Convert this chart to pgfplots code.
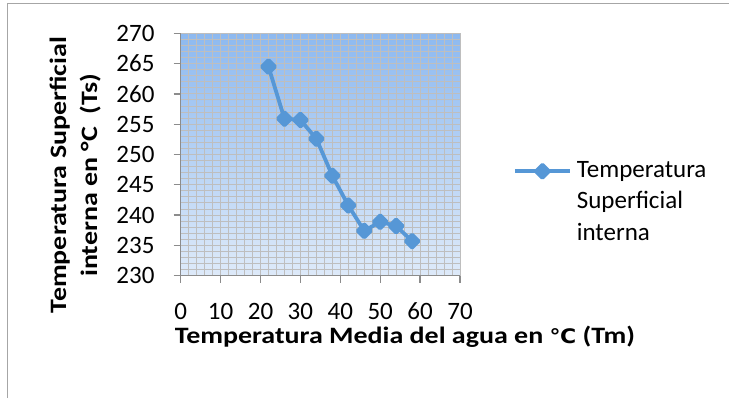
\documentclass[border=0pt]{standalone}
\usepackage{fontspec}
\setmainfont{Carlito}
\newfontfamily\labelfont[FakeStretch=1.19]{Carlito}
\newfontfamily\dejavu[FakeStretch=1.1]{DejaVu Sans}
\usepackage{pgfplots}
\pgfplotsset{compat=1.18}
\definecolor{serie}{RGB}{86,151,214}
\definecolor{gridc}{RGB}{190,190,190}
\definecolor{axc}{RGB}{140,140,140}
\definecolor{bgtop}{RGB}{141,185,240}
\definecolor{bgbot}{RGB}{222,234,249}
\definecolor{framec}{RGB}{166,166,166}
\begin{document}
\begin{tikzpicture}[x=1bp,y=1bp]
\path[use as bounding box] (0,0) rectangle (729,398);
\draw[framec, line width=1.5bp] (7.3,0) -- (7.3,394.7) -- (729,394.7);
\begin{axis}[
  at={(180.7bp,122.3bp)}, anchor=south west,
  scale only axis, width=279.3bp, height=242.4bp,
  xmin=0, xmax=70, ymin=230, ymax=270,
  xtick={0,10,...,70}, ytick={230,235,...,270},
  minor x tick num=4, minor y tick num=4,
  grid=both,
  major grid style={gridc, line width=1bp},
  minor grid style={gridc, line width=1bp},
  axis x line*=bottom, axis y line*=left,
  axis line style={axc, line width=1.3bp, -},
  tick align=outside, major tick length=7bp, minor tick length=0pt,
  tick style={axc, line width=1.3bp},
  axis background/.style={top color=bgtop, bottom color=bgbot},
  /pgf/number format/assume math mode=true,
  /pgf/number format/1000 sep={},
  ticklabel style={font=\fontsize{25bp}{28bp}\selectfont, inner sep=0pt, black},
  yticklabel style={xshift=-19bp},
  xticklabel style={yshift=-20bp},
  xlabel={Temperatura Media del agua en {\dejavu\bfseries\fontsize{20bp}{28bp}\selectfont ℃} (Tm)},
  ylabel={Temperatura Superficial\\interna en °C\ \ (Ts)},
  label style={font=\labelfont\bfseries\fontsize{23.5bp}{31bp}\selectfont, align=center, inner sep=0pt},
  xlabel style={at={(axis description cs:0.803,-0.28)}, anchor=base},
  ylabel style={at={(axis description cs:-0.378,0.415)}, anchor=center},
  legend style={at={(axis description cs:1.19,0.473)}, anchor=north west,
    draw=none, fill=none, inner sep=0pt, outer sep=0pt,
    font=\fontsize{25bp}{31.5bp}\selectfont,
    nodes={inner sep=0pt, align=left}, column sep=5bp},
  legend cell align=left,
  legend image code/.code={\draw[mark repeat=2,mark phase=2,#1] plot coordinates {(0bp,30bp) (27.5bp,30bp) (55bp,30bp)};},
]
\addplot[serie, line width=3.8bp, line join=round,
  mark=square*, mark size=4.6bp, mark options={rotate=45, solid}]
  coordinates {
  (22,264.5) (26,255.9) (30,255.7) (34,252.6) (38,246.5)
  (42,241.6) (46,237.4) (50,238.9) (54,238.2) (58,235.7)
  };
\addlegendentry{Temperatura\\Superficial\\interna}
\end{axis}
\end{tikzpicture}
\end{document}
